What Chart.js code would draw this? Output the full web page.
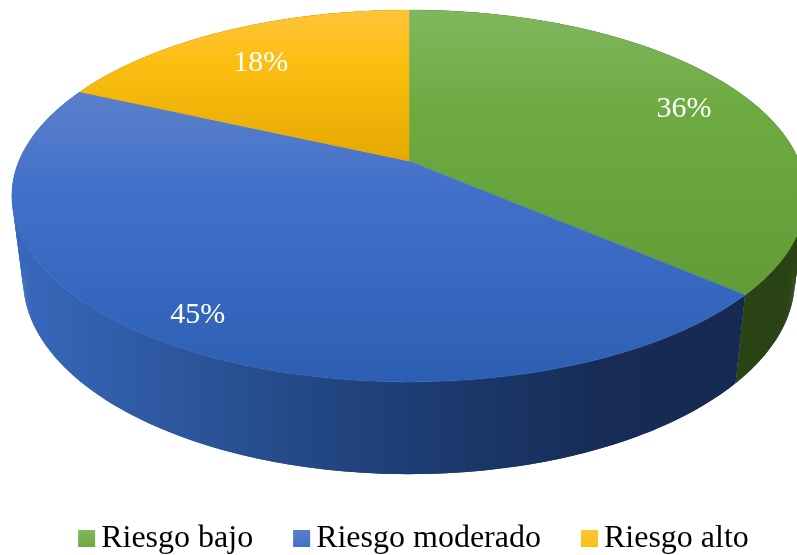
<!DOCTYPE html>
<html lang="es">
<head>
    <meta charset="UTF-8">
    <title>Riesgo</title>
    <script src="https://cdn.jsdelivr.net/npm/chart.js"></script>
    <style>
        body { margin: 0; padding: 0; background: #ffffff; }
        canvas { display: block; }
    </style>
</head>
<body>
    <canvas id="pieChart" width="797" height="555"></canvas>
    <script>
        const categories = ['Riesgo bajo', 'Riesgo moderado', 'Riesgo alto'];
        const percentages = [36, 45, 18];

        // top face shading (light, mid, dark) and side shading per slice
        const topColors = [
            ['#80b75f', '#6dab41', '#629c37'],
            ['#5b80cb', '#4170c9', '#2c5fb4'],
            ['#ffc439', '#fcbe12', '#e4a900']
        ];
        const sideColors = [
            ['#2e4a18', '#2a4315'],
            ['#3867bb', '#2a5296', '#1d3d74', '#162c55', '#16294f'],
            ['#7f6000', '#7f6000']
        ];
        const labelRadius = [0.81, 0.87, 0.75];
        const labelTurn = [0.03, -0.005, -0.03];

        // perspective view of the unit circle, the rim is the same disc further down
        const topRim = { cx: 409, rx: 390, y0: 161, ya: 149.1, k: -0.188 };
        const lowRim = { cx: 409, rx: 379, y0: 243, ya: 142, k: -0.188 };

        function project(rim, angle, r) {
            const u = Math.cos(angle) * r;
            const v = Math.sin(angle) * r;
            const d = 1 + rim.k * v;
            return { x: rim.cx + rim.rx * u / d, y: (rim.y0 + rim.ya * v) / d };
        }

        function anglesOf(arc) {
            const list = [];
            const step = Math.PI / 360;
            for (let a = arc.startAngle; a < arc.endAngle; a += step) list.push(a);
            list.push(arc.endAngle);
            return list;
        }

        const pie3d = {
            id: 'pie3d',
            beforeDatasetsDraw(chart) {
                const ctx = chart.ctx;
                const arcs = chart.getDatasetMeta(0).data;

                // sides, back to front so the nearer wall covers the farther one
                const quads = [];
                arcs.forEach((arc, i) => {
                    const g = ctx.createLinearGradient(23, 0, 797, 0);
                    const stops = sideColors[i];
                    stops.forEach((c, n) => g.addColorStop(n / (stops.length - 1), c));
                    const list = anglesOf(arc);
                    for (let n = 0; n < list.length - 1; n++) {
                        quads.push({ a: list[n], b: list[Math.min(n + 2, list.length - 1)], fill: g });
                    }
                });
                quads.sort((p, q) => Math.sin(p.a) - Math.sin(q.a));
                quads.forEach(q => {
                    const p1 = project(topRim, q.a, 1);
                    const p2 = project(topRim, q.b, 1);
                    const p3 = project(lowRim, q.b, 1);
                    const p4 = project(lowRim, q.a, 1);
                    ctx.fillStyle = q.fill;
                    ctx.beginPath();
                    ctx.moveTo(p1.x, p1.y);
                    ctx.lineTo(p2.x, p2.y);
                    ctx.lineTo(p3.x, p3.y);
                    ctx.lineTo(p4.x, p4.y);
                    ctx.closePath();
                    ctx.fill();
                });

                // top faces
                arcs.forEach((arc, i) => {
                    const pts = anglesOf(arc).map(a => project(topRim, a, 1));
                    const apex = project(topRim, 0, 0);
                    const ys = pts.map(p => p.y).concat(apex.y);
                    const g = ctx.createLinearGradient(0, Math.min(...ys), 0, Math.max(...ys));
                    g.addColorStop(0, topColors[i][0]);
                    g.addColorStop(0.35, topColors[i][1]);
                    g.addColorStop(1, topColors[i][2]);
                    ctx.fillStyle = g;
                    ctx.strokeStyle = g;
                    ctx.lineWidth = 0.5;
                    ctx.beginPath();
                    ctx.moveTo(apex.x, apex.y);
                    pts.forEach(p => ctx.lineTo(p.x, p.y));
                    ctx.closePath();
                    ctx.fill();
                    ctx.stroke();
                });

                // percentage labels
                ctx.fillStyle = '#ffffff';
                ctx.font = '30px "Liberation Serif"';
                ctx.textAlign = 'center';
                ctx.textBaseline = 'middle';
                arcs.forEach((arc, i) => {
                    const mid = (arc.startAngle + arc.endAngle) / 2 + labelTurn[i];
                    const p = project(topRim, mid, labelRadius[i]);
                    ctx.fillText(percentages[i] + '%', p.x, p.y + 1.5);
                });
                return false;
            },
            afterDraw(chart) {
                // legend swatches are wider than the gap chart.js leaves, so paint them here
                const ctx = chart.ctx;
                chart.legend.legendHitBoxes.forEach((box, i) => {
                    const top = box.top + box.height / 2 - 9;
                    const g = ctx.createLinearGradient(0, top, 0, top + 17);
                    g.addColorStop(0, topColors[i][0]);
                    g.addColorStop(1, topColors[i][1]);
                    ctx.fillStyle = g;
                    ctx.fillRect(box.left, top, 17, 17);
                });
            }
        };

        new Chart(document.getElementById('pieChart').getContext('2d'), {
            type: 'pie',
            data: {
                labels: categories,
                datasets: [{
                    data: percentages,
                    backgroundColor: ['rgba(0,0,0,0)', 'rgba(0,0,0,0)', 'rgba(0,0,0,0)'],
                    borderWidth: 0
                }]
            },
            options: {
                responsive: false,
                animation: false,
                layout: { padding: { left: 30, bottom: -10 } },
                plugins: {
                    tooltip: { enabled: false },
                    legend: {
                        position: 'bottom',
                        labels: {
                            boxWidth: 7,
                            boxHeight: 17,
                            padding: 40,
                            color: '#000000',
                            font: { family: '"Liberation Serif"', size: 32 }
                        }
                    }
                }
            },
            plugins: [pie3d]
        });
    </script>
</body>
</html>
